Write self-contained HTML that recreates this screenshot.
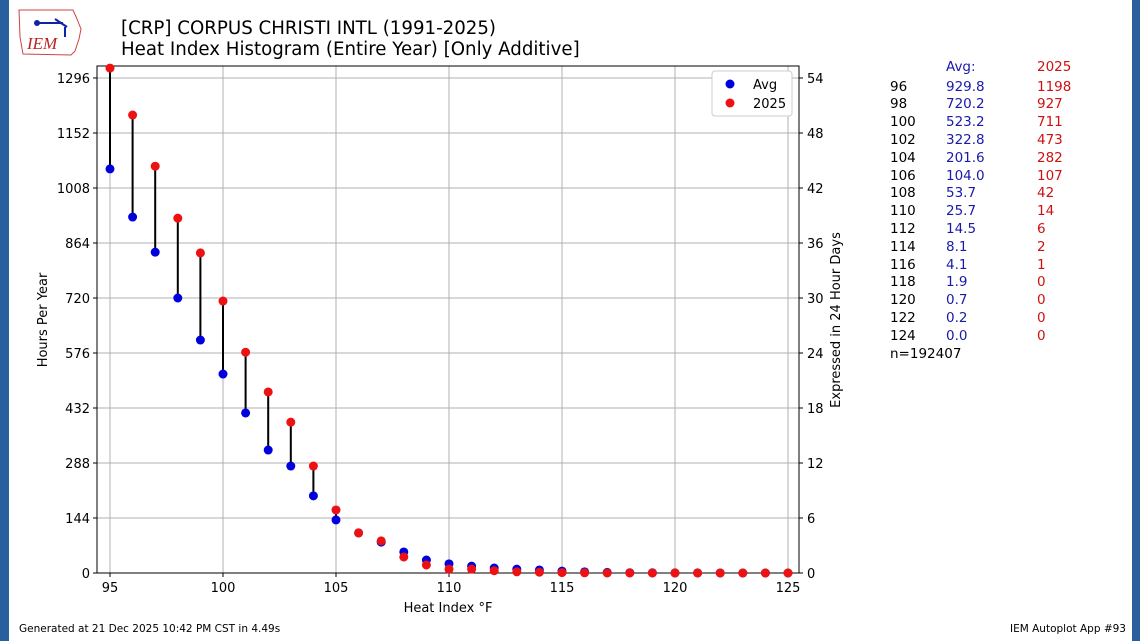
<!DOCTYPE html>
<html><head><meta charset="utf-8"><style>
body{margin:0;width:1140px;height:641px;background:#fff;position:relative;overflow:hidden;font-family:"DejaVu Sans","Liberation Sans",sans-serif}
.abs{position:absolute;white-space:nowrap}
</style></head><body>
<div class="abs" style="left:0;top:0;width:9px;height:641px;background:#2a5f9e"></div>
<div class="abs" style="left:1132px;top:0;width:8px;height:641px;background:#2a5f9e"></div>
<svg class="abs" style="left:15px;top:7px" width="70" height="52" viewBox="0 0 70 52">
<path d="M4 3 L58 3 L62 12 L66 22 L64 32 L60 44 L56 48 L8 47 L5 30 Z" fill="none" stroke="#c44" stroke-width="1"/>
<path d="M22 16 L48 16 M40 12 L52 20 M50 20 L50 30" stroke="#12a" stroke-width="2" fill="none"/>
<circle cx="22" cy="16" r="3" fill="#12a"/>
<text x="12" y="42" font-family="Liberation Serif,serif" font-style="italic" font-size="17" fill="#b22">IEM</text>
</svg>
<div class="abs" style="left:121px;top:18px;font-size:18.2px;line-height:21px;color:#000">[CRP] CORPUS CHRISTI INTL (1991-2025)<br>Heat Index Histogram (Entire Year) [Only Additive]</div>
<svg id="chart" class="abs" style="left:0;top:0" width="1140" height="641"></svg>
<div id="table" class="abs" style="left:0;top:0;font-size:13.5px"></div>
<div class="abs" style="left:19px;top:623px;font-size:10.5px">Generated at 21 Dec 2025 10:42 PM CST in 4.49s</div>
<div class="abs" style="left:1010px;top:623px;font-size:10.5px">IEM Autoplot App #93</div>
<script>
const categories=[95,96,97,98,99,100,101,102,103,104,105,106,107,108,109,110,111,112,113,114,115,116,117,118,119,120,121,122,123,124,125];
const avgHours=[1058,932,840,720,610,521,419,322,280,202,139,105,81,55,34,24,18,13,10,8,5,3,1.5,0.8,0.5,0.3,0.2,0.1,0,0,0];
const yearHours=[1322,1199,1065,929,838,712,578,474,395,280,165,105,84,42,21,10,10,6,3,2,1,0.5,0,0,0,0,0,0,0,0,0];
const yTicks=[0,144,288,432,576,720,864,1008,1152,1296];
const xTicks=[95,100,105,110,115,120,125];
const dayTicks=[0,6,12,18,24,30,36,42,48,54];
const tblT=[96,98,100,102,104,106,108,110,112,114,116,118,120,122,124];
const tblAvg=["929.8","720.2","523.2","322.8","201.6","104.0","53.7","25.7","14.5","8.1","4.1","1.9","0.7","0.2","0.0"];
const tblYear=[1198,927,711,473,282,107,42,14,6,2,1,0,0,0,0];

const L=97,R=799,T=66,B=573;
const xs=v=>110+(v-95)*(788-110)/30;
const ys=v=>B-v*(495/1296);
const svg=document.getElementById('chart');
const NS='http://www.w3.org/2000/svg';
function mk(t,a){const e=document.createElementNS(NS,t);for(const k in a)e.setAttribute(k,a[k]);svg.appendChild(e);return e;}
xTicks.forEach(v=>{const g=mk('line',{x1:xs(v),x2:xs(v),y1:T,y2:B,stroke:'#b0b0b0','stroke-width':1});

mk('line',{x1:xs(v),x2:xs(v),y1:B,y2:B+4,stroke:'#000'});
const t=mk('text',{x:xs(v),y:B+19,'text-anchor':'middle','font-size':13});t.textContent=v;
});
yTicks.forEach(v=>{const g=mk('line',{x1:L,x2:R,y1:ys(v),y2:ys(v),stroke:'#b0b0b0','stroke-width':1});

mk('line',{x1:L-4,x2:L,y1:ys(v),y2:ys(v),stroke:'#000'});
const t=mk('text',{x:L-7,y:ys(v)+5,'text-anchor':'end','font-size':13});t.textContent=v;
});
dayTicks.forEach(v=>{const y=ys(v*24);mk('line',{x1:R,x2:R+4,y1:y,y2:y,stroke:'#000'});
const t=mk('text',{x:R+8,y:y+5,'font-size':13});t.textContent=v;
});
const fr=mk('rect',{x:L,y:T,width:R-L,height:B-T,fill:'none',stroke:'#000'});

categories.forEach((c,i)=>{const l=mk('line',{x1:xs(c),x2:xs(c),y1:ys(avgHours[i]),y2:ys(yearHours[i]),stroke:'#000','stroke-width':2});
});
categories.forEach((c,i)=>{const p=mk('circle',{cx:xs(c),cy:ys(avgHours[i]),r:4.5,fill:'#0000dd'});
});
categories.forEach((c,i)=>{const p=mk('circle',{cx:xs(c),cy:ys(yearHours[i]),r:4.5,fill:'#ee1111'});
});
let t=mk('text',{x:448,y:612,'text-anchor':'middle','font-size':13});t.textContent='Heat Index °F';

t=mk('text',{x:0,y:0,'text-anchor':'middle','font-size':13,transform:'translate(47,320) rotate(-90)'});t.textContent='Hours Per Year';

t=mk('text',{x:0,y:0,'text-anchor':'middle','font-size':13,transform:'translate(840,320) rotate(-90)'});t.textContent='Expressed in 24 Hour Days';

const lg=mk('rect',{x:712,y:71,width:80,height:45,fill:'#fff',stroke:'#ccc',rx:3});

[['Avg','#0000dd',84],['2025','#ee1111',103]].forEach(([n,c,y])=>{const d=mk('circle',{cx:730,cy:y,r:4.5,fill:c});

const tx=mk('text',{x:753,y:y+5,'font-size':13});tx.textContent=n;
});
const tb=document.getElementById('table');
function cell(x,y,txt,col,name){const d=document.createElement('div');d.className='abs';d.style.left=x+'px';d.style.top=y+'px';d.style.color=col;d.textContent=txt;


tb.appendChild(d);}
cell(946,59,'Avg:','#1a1aaa','table-header-avg');cell(1037,59,'2025','#d01010','table-header-year');
tblT.forEach((v,i)=>{const y=78.5+i*17.8;cell(890,y,v,'#000','table-temp');cell(946,y,tblAvg[i],'#1a1aaa','table-avg');cell(1037,y,tblYear[i],'#d01010','table-year');});
cell(890,78.5+15*17.8,'n=192407','#000','table-n');
</script>
</body></html>
